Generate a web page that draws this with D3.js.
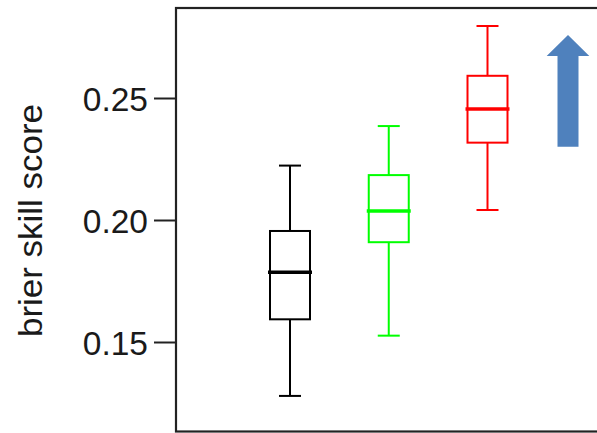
<!DOCTYPE html>
<html>
<head>
<meta charset="utf-8">
<script src="https://cdn.jsdelivr.net/npm/d3@7"></script>
<style>
  html, body { margin: 0; padding: 0; background: #fff; }
  svg { display: block; }
</style>
</head>
<body>
<svg id="chart" width="597" height="433"></svg>
<script>
// Brier skill score distributions for three forecast configurations
const groups      = ["A", "B", "C"];
const groupColors = ["#000000", "#00ff00", "#ff0000"];
const whiskerLow  = [0.1279, 0.1526, 0.2041];
const q1          = [0.1593, 0.1909, 0.2317];
const median      = [0.1786, 0.2037, 0.2455];
const q3          = [0.1955, 0.2184, 0.2591];
const whiskerHigh = [0.2223, 0.2385, 0.2795];
const yTicks      = [0.15, 0.20, 0.25];
const yLabel      = "brier skill score";

const svg = d3.select("#chart");

// plot frame (right side runs past the canvas edge)
const frame = { left: 176, top: 8, right: 620, bottom: 431.5 };

const y = d3.scaleLinear()
  .domain([0.20 - (frame.bottom - 220) / 2440, 0.20 + (220 - frame.top) / 2440])
  .range([frame.bottom, frame.top]);

const x = d3.scaleLinear().domain([0, groups.length - 1]).range([290, 487.5]);

const boxW = 40, capW = 22;

// frame
svg.append("rect")
  .attr("x", frame.left).attr("y", frame.top)
  .attr("width", frame.right - frame.left).attr("height", frame.bottom - frame.top)
  .attr("fill", "none").attr("stroke", "#222").attr("stroke-width", 2.2);

// y axis
const yAxis = d3.axisLeft(y).tickValues(yTicks).tickFormat(d3.format(".2f"))
  .tickSize(22).tickPadding(6);
const ga = svg.append("g").attr("transform", `translate(${frame.left},0)`).call(yAxis);
ga.select(".domain").remove();
ga.selectAll(".tick line").attr("stroke", "#222").attr("stroke-width", 2);
ga.selectAll(".tick text")
  .attr("font-family", "'Liberation Sans', Arial, sans-serif")
  .attr("font-size", 33.5)
  .attr("fill", "#1a1a1a")
  .attr("dy", "0.38em");

// y label
svg.append("text")
  .attr("transform", `translate(41.5,220.5) rotate(-90)`)
  .attr("text-anchor", "middle")
  .attr("font-family", "'Liberation Sans', Arial, sans-serif")
  .attr("font-size", 34)
  .attr("fill", "#1a1a1a")
  .attr("textLength", 233)
  .attr("lengthAdjust", "spacingAndGlyphs")
  .text(yLabel);

// box plots
groups.forEach((g, i) => {
  const cx = x(i), col = groupColors[i];
  const G = svg.append("g").attr("stroke", col).attr("fill", "none");
  // whiskers
  G.append("line").attr("x1", cx).attr("x2", cx)
    .attr("y1", y(whiskerHigh[i])).attr("y2", y(q3[i])).attr("stroke-width", 2);
  G.append("line").attr("x1", cx).attr("x2", cx)
    .attr("y1", y(q1[i])).attr("y2", y(whiskerLow[i])).attr("stroke-width", 2);
  // caps
  [whiskerHigh[i], whiskerLow[i]].forEach(v => {
    G.append("line").attr("x1", cx - capW / 2).attr("x2", cx + capW / 2)
      .attr("y1", y(v)).attr("y2", y(v)).attr("stroke-width", 2);
  });
  // box
  G.append("rect")
    .attr("x", cx - boxW / 2).attr("y", y(q3[i]))
    .attr("width", boxW).attr("height", y(q1[i]) - y(q3[i]))
    .attr("stroke-width", 2);
  // median
  G.append("line").attr("x1", cx - boxW / 2 - 2).attr("x2", cx + boxW / 2 + 2)
    .attr("y1", y(median[i])).attr("y2", y(median[i])).attr("stroke-width", 3.5);
});

// upward arrow: higher score is better
const a = { cx: 568, tipY: 35, headY: 56, headHalf: 21.3, shaftHalf: 10.5, bottomY: 146.7 };
svg.append("path")
  .attr("d", `M${a.cx},${a.tipY} L${a.cx + a.headHalf},${a.headY} L${a.cx + a.shaftHalf},${a.headY}
              L${a.cx + a.shaftHalf},${a.bottomY} L${a.cx - a.shaftHalf},${a.bottomY}
              L${a.cx - a.shaftHalf},${a.headY} L${a.cx - a.headHalf},${a.headY} Z`)
  .attr("fill", "#4f81bd");
</script>
</body>
</html>
